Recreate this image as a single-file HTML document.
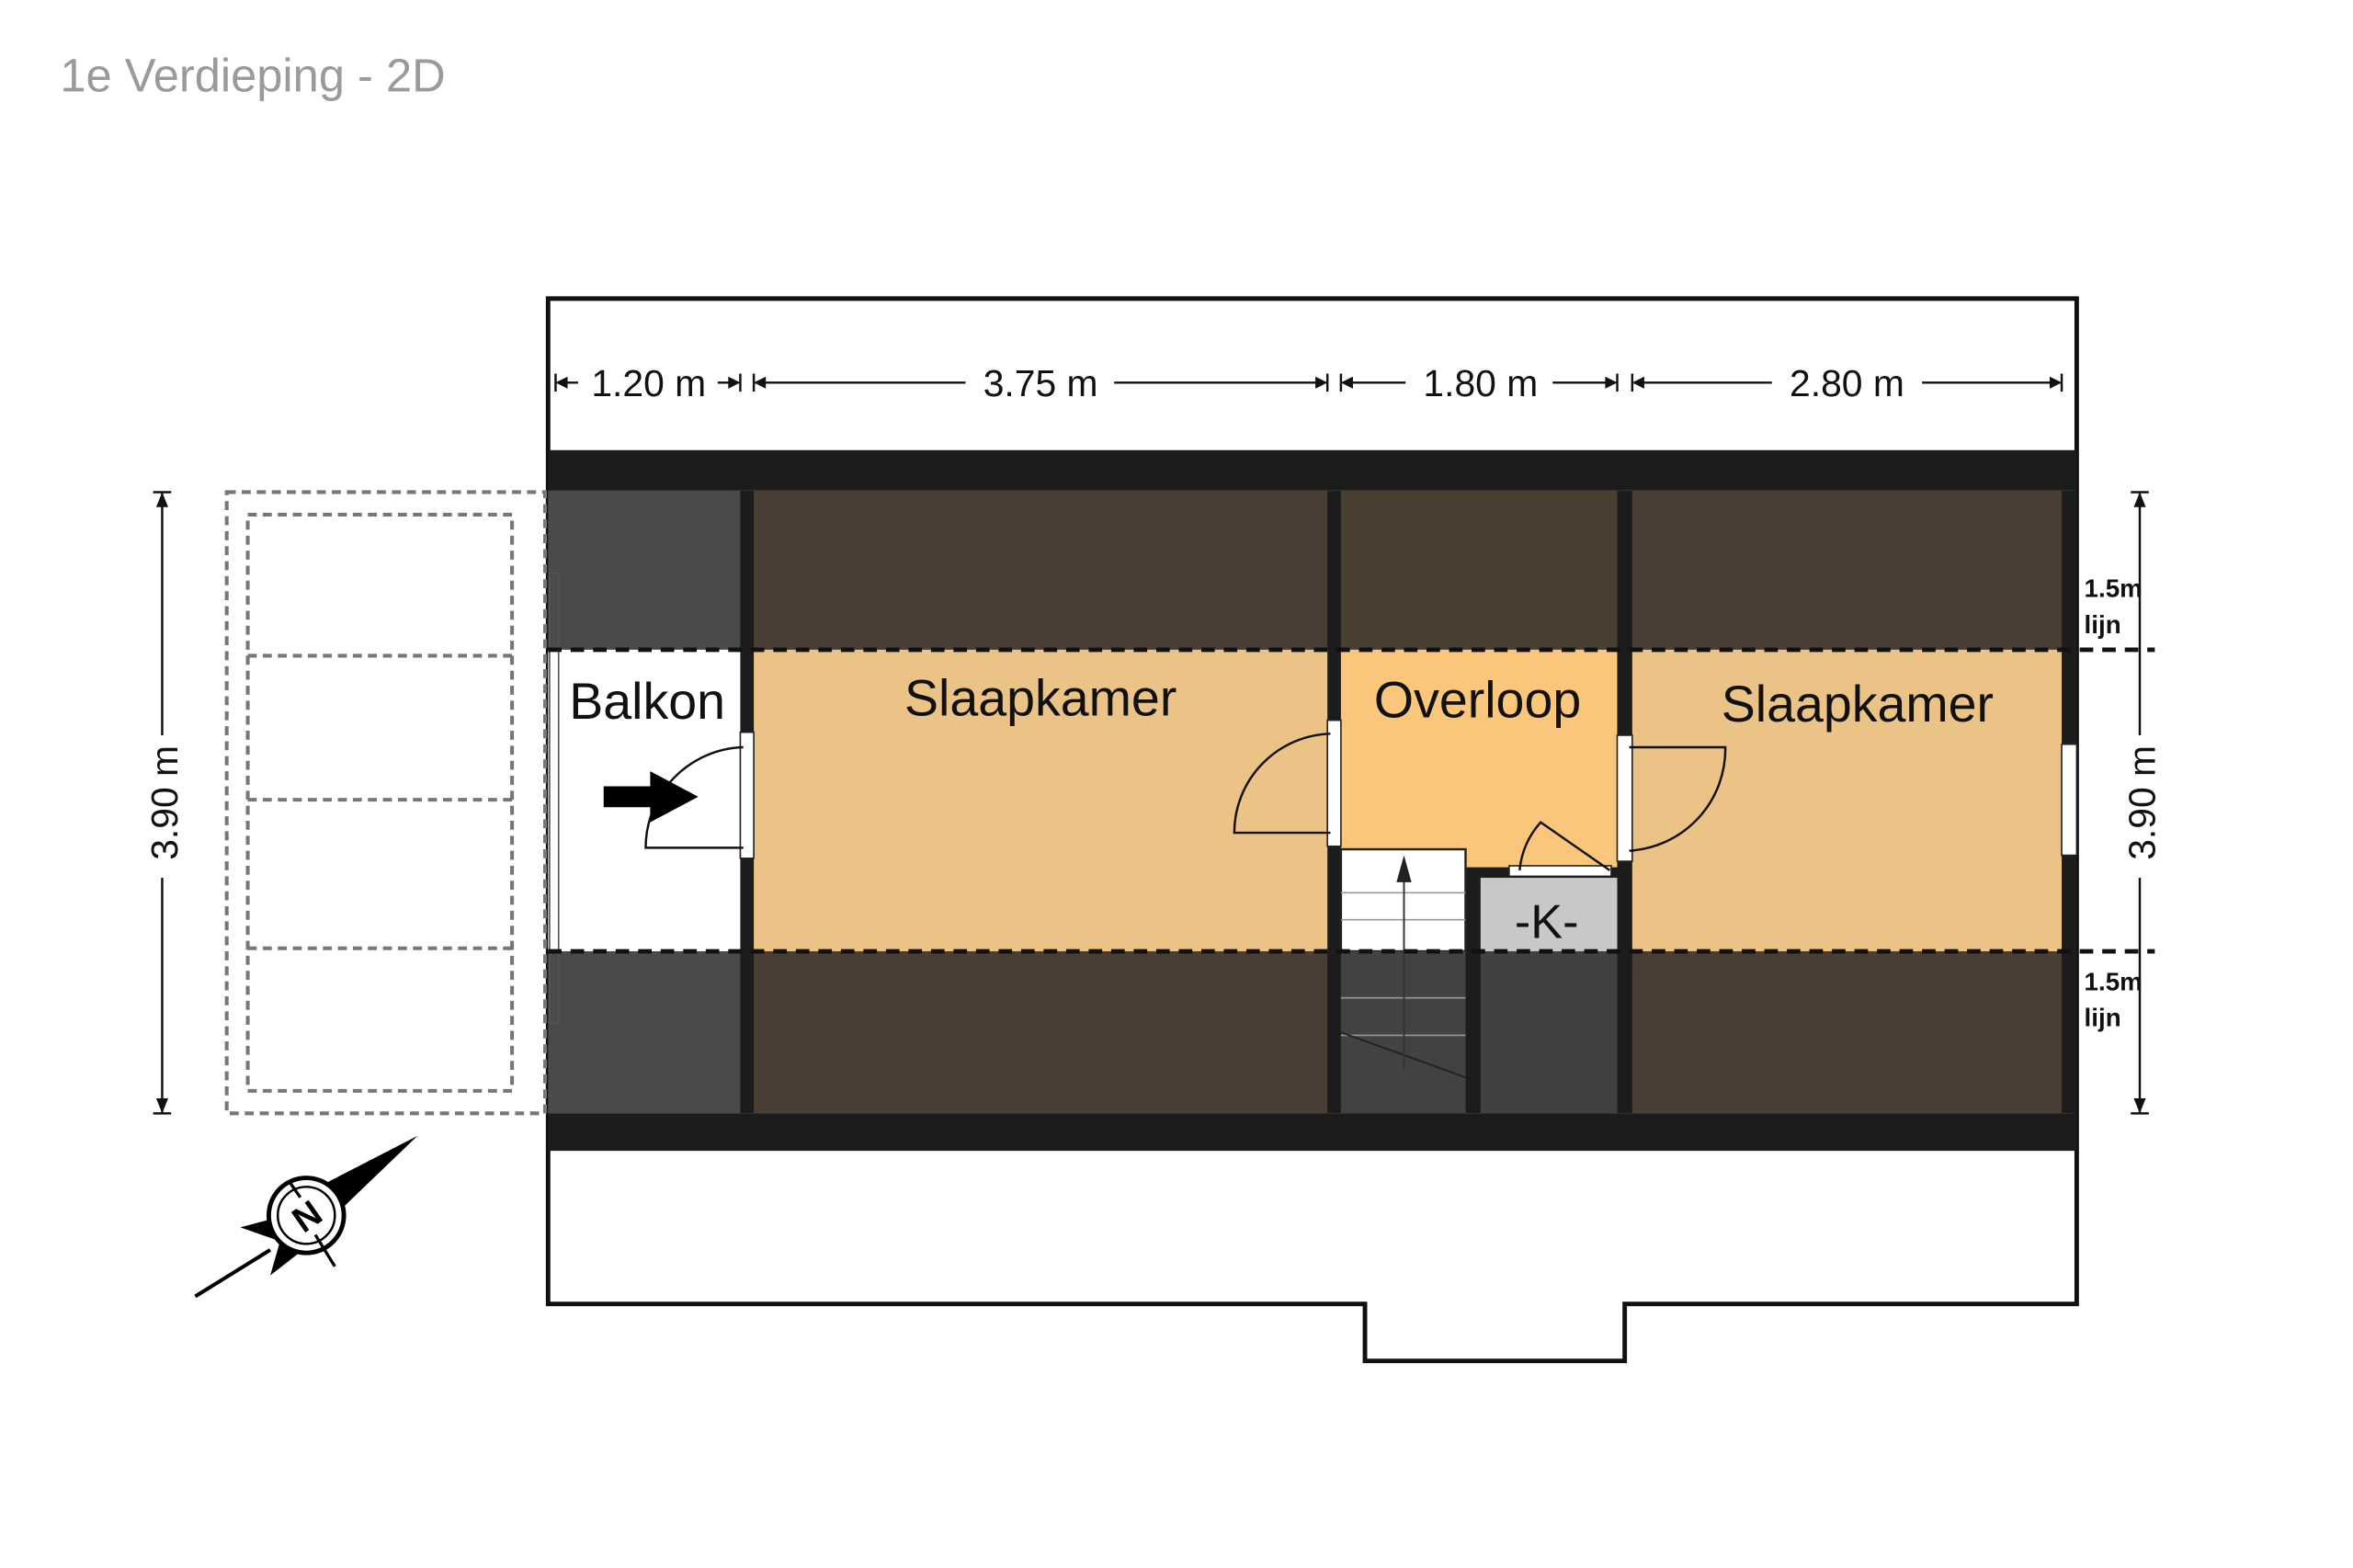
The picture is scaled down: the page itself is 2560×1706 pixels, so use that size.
<!DOCTYPE html>
<html><head><meta charset="utf-8"><style>
html,body{margin:0;padding:0;background:#fff;width:2560px;height:1706px;overflow:hidden}
svg{display:block}
text{font-family:"Liberation Sans",sans-serif}
</style></head><body>
<svg width="2560" height="1706" viewBox="0 0 1567 1045" preserveAspectRatio="none" xmlns="http://www.w3.org/2000/svg">
<rect width="1567" height="1045" fill="#fff"/>
<text x="40" y="61" font-size="31" fill="#9a9a9a">1e Verdieping - 2D</text>

<path d="M365,869 L365,199 L1383,199 L1383,869 L1082,869 L1082,907 L909,907 L909,869 Z" fill="#fff" stroke="#111" stroke-width="3"/>
<rect x="365" y="300" width="1018" height="27" fill="#1c1c1c"/>
<rect x="365" y="742" width="1018" height="25" fill="#1c1c1c"/>
<rect x="365" y="327" width="1018" height="415" fill="#1c1c1c"/>

<rect x="365" y="327" width="128" height="106" fill="#4a4a4a"/>
<rect x="365" y="433" width="128" height="201" fill="#fff"/>
<rect x="365" y="634" width="128" height="108" fill="#4a4a4a"/>
<rect x="366" y="382" width="6" height="300" fill="none" stroke="#555" stroke-width="1"/>
<rect x="502" y="327" width="382" height="106" fill="#493e34"/>
<rect x="502" y="433" width="382" height="201" fill="#ebc387"/>
<rect x="502" y="634" width="382" height="108" fill="#493e34"/>
<rect x="893" y="327" width="184" height="106" fill="#4a4032"/>
<rect x="893" y="433" width="184" height="145" fill="#f9c67b"/>
<rect x="893" y="566" width="83" height="68" fill="#fff" stroke="#222" stroke-width="1.5"/>
<rect x="893" y="634" width="83" height="108" fill="#424242"/>
<g stroke="#999" stroke-width="1"><line x1="893" y1="595" x2="976" y2="595"/><line x1="893" y1="613" x2="976" y2="613"/><line x1="893" y1="665" x2="976" y2="665"/><line x1="893" y1="690" x2="976" y2="690"/></g>
<line x1="893" y1="688" x2="976" y2="718" stroke="#222" stroke-width="1.2"/>
<line x1="935" y1="586" x2="935" y2="712" stroke="#333" stroke-width="1.2"/>
<polygon points="935,570 930,588 940,588" fill="#222"/>
<rect x="986" y="585" width="91" height="49" fill="#c8c8c8"/>
<rect x="986" y="634" width="91" height="108" fill="#414141"/>
<rect x="1005" y="577" width="68" height="7" fill="#fff" stroke="#222" stroke-width="1"/>
<path d="M1072,580 L1026,548 A56,56 0 0 0 1012,580" fill="none" stroke="#111" stroke-width="1.5"/>
<rect x="1087" y="327" width="286" height="106" fill="#493e34"/>
<rect x="1087" y="433" width="286" height="201" fill="#ebc387"/>
<rect x="1087" y="634" width="286" height="108" fill="#493e34"/>

<rect x="493" y="488" width="9" height="84" fill="#fff" stroke="#222" stroke-width="1"/>
<path d="M495,565 L430,565 A67,67 0 0 1 495,498" fill="none" stroke="#111" stroke-width="1.5"/>
<rect x="884" y="480" width="9" height="84" fill="#fff" stroke="#222" stroke-width="1"/>
<path d="M886,555 L822,555 A66,66 0 0 1 886,489" fill="none" stroke="#111" stroke-width="1.5"/>
<rect x="1077" y="490" width="10" height="84" fill="#fff" stroke="#222" stroke-width="1"/>
<path d="M1085,498 L1149,498 A68,68 0 0 1 1085,567" fill="none" stroke="#111" stroke-width="1.5"/>
<rect x="1373" y="496" width="10" height="74" fill="#fff" stroke="#222" stroke-width="1"/>
<polygon points="402,524 433,524 433,514 465,531 433,548 433,538 402,538" fill="#000"/>

<g stroke="#111" stroke-width="3" stroke-dasharray="9,6" fill="none">
<line x1="365" y1="433" x2="1435" y2="433"/>
<line x1="365" y1="634" x2="1435" y2="634"/>
</g>
<g stroke="#777" stroke-width="2.5" stroke-dasharray="6,4" fill="none">
<rect x="151" y="328" width="212" height="414"/>
<rect x="165" y="343" width="176" height="384"/>
<line x1="165" y1="437" x2="341" y2="437"/>
<line x1="165" y1="533" x2="341" y2="533"/>
<line x1="165" y1="632" x2="341" y2="632"/>
</g>

<g stroke="#111" stroke-width="1.5">
<line x1="371" y1="255" x2="385" y2="255"/><line x1="478" y1="255" x2="492" y2="255"/>
<line x1="503" y1="255" x2="643" y2="255"/><line x1="742" y1="255" x2="883" y2="255"/>
<line x1="894" y1="255" x2="936" y2="255"/><line x1="1034" y1="255" x2="1076" y2="255"/>
<line x1="1088" y1="255" x2="1180" y2="255"/><line x1="1280" y1="255" x2="1373" y2="255"/>
<line x1="370" y1="249" x2="370" y2="261"/><line x1="493" y1="249" x2="493" y2="261"/><line x1="502" y1="249" x2="502" y2="261"/><line x1="884" y1="249" x2="884" y2="261"/><line x1="893" y1="249" x2="893" y2="261"/><line x1="1077" y1="249" x2="1077" y2="261"/><line x1="1087" y1="249" x2="1087" y2="261"/><line x1="1373" y1="249" x2="1373" y2="261"/>
</g>
<g fill="#111">
<polygon points="370,255 378,251 378,259"/><polygon points="493,255 485,251 485,259"/>
<polygon points="502,255 510,251 510,259"/><polygon points="884,255 876,251 876,259"/>
<polygon points="893,255 901,251 901,259"/><polygon points="1077,255 1069,251 1069,259"/>
<polygon points="1087,255 1095,251 1095,259"/><polygon points="1373,255 1365,251 1365,259"/>
</g>
<g font-size="25" fill="#111" text-anchor="middle">
<text x="432" y="264">1.20 m</text><text x="693" y="264">3.75 m</text><text x="986" y="264">1.80 m</text><text x="1230" y="264">2.80 m</text>
</g>

<g stroke="#111" stroke-width="1.5">
<line x1="108" y1="328" x2="108" y2="490"/><line x1="108" y1="585" x2="108" y2="742"/>
<line x1="102" y1="328" x2="114" y2="328"/><line x1="102" y1="742" x2="114" y2="742"/>
<line x1="1425" y1="328" x2="1425" y2="490"/><line x1="1425" y1="585" x2="1425" y2="742"/>
<line x1="1419" y1="328" x2="1431" y2="328"/><line x1="1419" y1="742" x2="1431" y2="742"/>
</g>
<g fill="#111">
<polygon points="108,328 104,338 112,338"/><polygon points="108,742 104,732 112,732"/>
<polygon points="1425,328 1421,338 1429,338"/><polygon points="1425,742 1421,732 1429,732"/>
</g>
<text transform="translate(118,535) rotate(-90)" font-size="25" text-anchor="middle" fill="#111">3.90 m</text>
<text transform="translate(1435,535) rotate(-90)" font-size="25" text-anchor="middle" fill="#111">3.90 m</text>
<g font-size="17" font-weight="bold" fill="#111">
<text x="1388" y="398">1.5m</text><text x="1388" y="422">lijn</text>
<text x="1388" y="660">1.5m</text><text x="1388" y="684">lijn</text>
</g>

<g font-size="34" fill="#111" text-anchor="middle">
<text x="431" y="479">Balkon</text>
<text x="693" y="477">Slaapkamer</text>
<text x="984" y="478">Overloop</text>
<text x="1237" y="481">Slaapkamer</text>
<text x="1030" y="625" font-size="32">-K-</text>
</g>

<g>
<line x1="130" y1="864" x2="180" y2="833" stroke="#000" stroke-width="2.5"/>
<polygon points="278,757 225,808 214,790" fill="#000"/>
<polygon points="160,818 190,810 183,826" fill="#000"/>
<polygon points="180,850 188,822 198,836" fill="#000"/>
<circle cx="204" cy="810" r="25" fill="#fff" stroke="#000" stroke-width="3"/>
<circle cx="204" cy="810" r="19" fill="none" stroke="#000" stroke-width="1.5"/>
<line x1="193" y1="788" x2="200" y2="798" stroke="#000" stroke-width="2"/>
<line x1="210" y1="823" x2="223" y2="844" stroke="#000" stroke-width="2"/>
<text x="204" y="819" font-size="24" font-weight="bold" text-anchor="middle" transform="rotate(-35,204,810)" fill="#000">N</text>
</g>
</svg>
</body></html>
